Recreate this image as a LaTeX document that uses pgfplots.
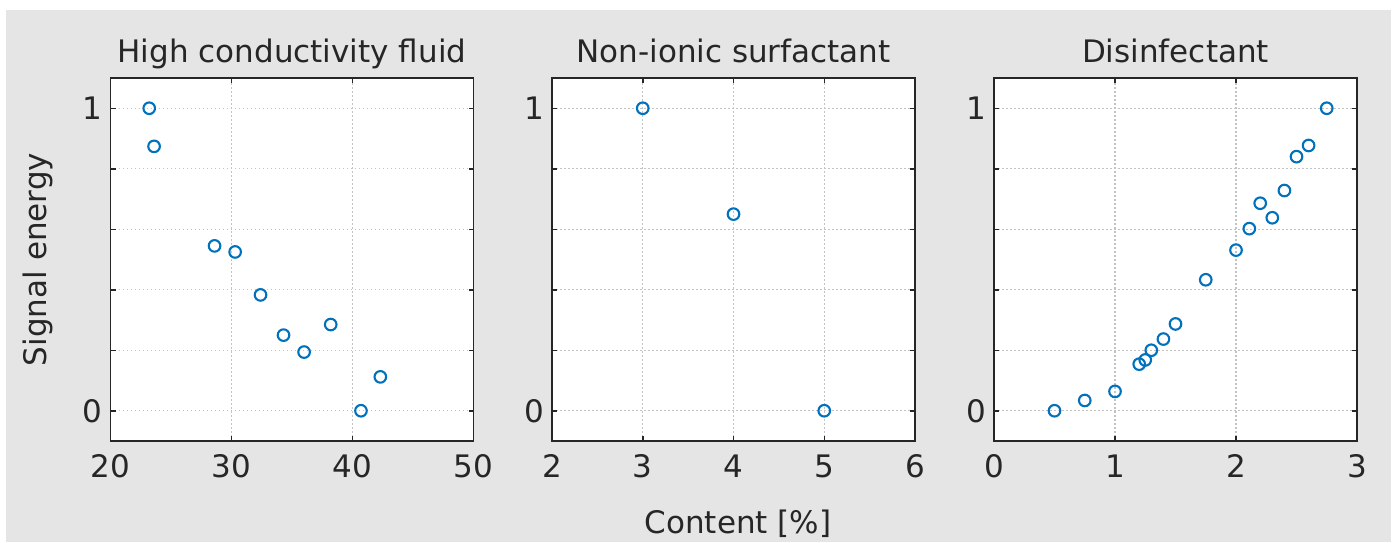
\documentclass[border=0pt]{standalone}
\usepackage{fontspec}
\setmainfont{DejaVu Sans}
\usepackage{pgfplots}
\pgfplotsset{compat=1.18}
\definecolor{bg}{RGB}{229,229,229}
\definecolor{fg}{RGB}{38,38,38}
\definecolor{mblue}{RGB}{0,114,189}
\definecolor{gridc}{RGB}{195,195,195}
\pgfplotsset{
  panel/.style={
    scale only axis, width=363pt, height=363pt, anchor=south west,
    ymin=-0.1, ymax=1.1, ytick={0,1}, minor ytick={0.2,0.4,0.6,0.8},
    axis background/.style={fill=white},
    axis line style={draw=fg, line width=1.8pt},
    tick align=inside, xtick pos=both, ytick pos=both,
    major tick length=5pt, minor tick length=5pt,
    tick style={fg, line width=1.5pt},
    xmajorgrids, ymajorgrids, yminorgrids,
    major grid style={gridc, line width=1.2pt, dash pattern=on 1.6pt off 2.4pt},
    minor grid style={gridc, line width=1.2pt, dash pattern=on 1.6pt off 2.4pt},
    font=\fontsize{31}{36}\selectfont,
    tick label style={font=\fontsize{31}{36}\selectfont, text=fg},
    /pgf/number format/assume math mode=true,
    xticklabel style={anchor=base, yshift=-36.7pt, inner sep=0pt},
    yticklabel style={anchor=east, xshift=-7.7pt, inner sep=0pt},
    every axis title/.style={at={(0.5,1)}, anchor=base, yshift=16pt, inner sep=0pt, text=fg, font=\fontsize{31}{36}\selectfont},
  },
  pts/.style={only marks, mark=o, mark size=5.8pt, draw=mblue, fill=none,
    mark options={draw=mblue, fill=none, line width=2.1pt, solid}},
}
\begin{document}
\begin{tikzpicture}
\path[use as bounding box] (0,0) rectangle (1394pt,542pt);
\fill[white] (0,0) rectangle (1394pt,542pt);
\fill[bg] (6pt,0) rectangle (1391pt,532pt);

\begin{axis}[panel, at={(110.5pt,101pt)}, xmin=20, xmax=50, xtick={20,30,40,50},
  title={High conductivity fluid}]
\addplot[pts] coordinates {
(23.2,1.0) (23.6,0.874) (28.6,0.545) (30.3,0.525) (32.4,0.383)
(34.3,0.250) (36.0,0.194) (38.2,0.285) (40.7,0.0) (42.3,0.112)
};
\end{axis}

\begin{axis}[panel, at={(552pt,101pt)}, xmin=2, xmax=6, xtick={2,3,4,5,6},
  title={Non-ionic surfactant}]
\addplot[pts] coordinates {
(3,1.0) (4,0.650) (5,0.0)
};
\end{axis}

\begin{axis}[panel, at={(994pt,101pt)}, xmin=0, xmax=3, xtick={0,1,2,3},
  title={Disinfectant}]
\addplot[pts] coordinates {
(0.50,0.0) (0.75,0.034) (1.00,0.064) (1.20,0.154) (1.25,0.168)
(1.30,0.200) (1.40,0.237) (1.50,0.287) (1.75,0.433) (2.00,0.531)
(2.11,0.602) (2.20,0.686) (2.30,0.638) (2.40,0.728) (2.50,0.840)
(2.60,0.877) (2.75,1.0)
};
\end{axis}

\node[rotate=90, anchor=base, text=fg, font=\fontsize{31}{36}\selectfont] at (46pt,282.5pt) {Signal energy};
\node[anchor=base, text=fg, font=\fontsize{31}{36}\selectfont] at (738pt,9pt) {Content [\%]};
\end{tikzpicture}
\end{document}
